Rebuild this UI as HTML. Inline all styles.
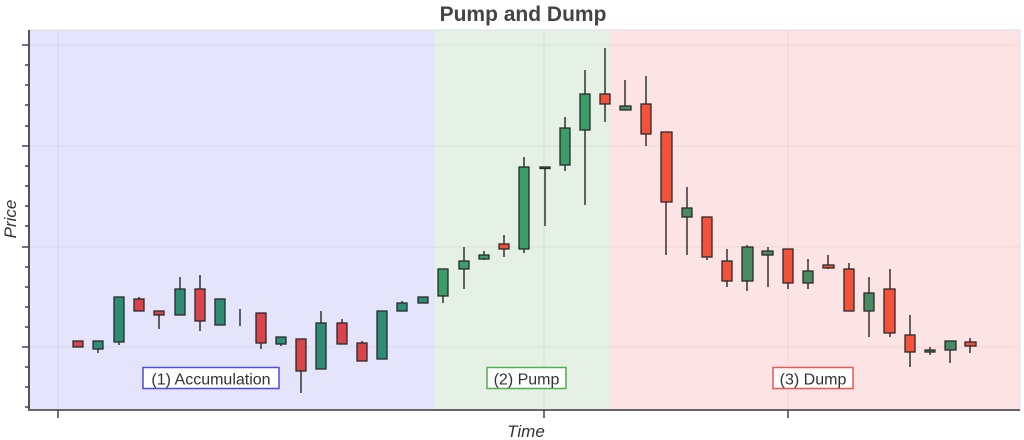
<!DOCTYPE html>
<html><head><meta charset="utf-8"><style>
html,body{margin:0;padding:0;background:#fff;}
svg{display:block;font-family:"Liberation Sans",sans-serif;}
.w{stroke:#333;stroke-width:1.5}
.b{stroke:#2a2a2a;stroke-width:1.3}
.t{fill:#2e8b74}.r{fill:#d9434a}.g{fill:#3a9d6a}.o{fill:#f4513a}.d{fill:#4a8a62}
</style></head><body>
<svg width="1024" height="440" viewBox="0 0 1024 440">
<rect x="29" y="30" width="406" height="380" fill="#e4e4fb"/>
<rect x="435" y="30" width="175" height="380" fill="#e4f1e4"/>
<rect x="610" y="30" width="410" height="380" fill="#fde4e4"/>
<g stroke="#000" stroke-opacity="0.05" stroke-width="1">
<line x1="29" y1="45" x2="1020" y2="45"/><line x1="29" y1="146" x2="1020" y2="146"/>
<line x1="29" y1="247" x2="1020" y2="247"/><line x1="29" y1="347" x2="1020" y2="347"/>
<line x1="58" y1="30" x2="58" y2="410"/><line x1="544" y1="30" x2="544" y2="410"/><line x1="788" y1="30" x2="788" y2="410"/>
</g>
<rect x="29" y="30" width="991" height="380" fill="none" stroke="#ddd" stroke-width="1"/>
<line x1="29" y1="30" x2="29" y2="411" stroke="#555" stroke-width="2"/>
<line x1="28" y1="410" x2="1020" y2="410" stroke="#666" stroke-width="2"/>
<g stroke="#444" stroke-width="1.5">
<line x1="22" y1="45" x2="29" y2="45"/><line x1="25" y1="65" x2="29" y2="65"/><line x1="25" y1="85" x2="29" y2="85"/><line x1="25" y1="105" x2="29" y2="105"/><line x1="25" y1="126" x2="29" y2="126"/>
<line x1="22" y1="146" x2="29" y2="146"/><line x1="25" y1="166" x2="29" y2="166"/><line x1="25" y1="186" x2="29" y2="186"/><line x1="25" y1="206" x2="29" y2="206"/><line x1="25" y1="226" x2="29" y2="226"/>
<line x1="22" y1="247" x2="29" y2="247"/><line x1="25" y1="267" x2="29" y2="267"/><line x1="25" y1="287" x2="29" y2="287"/><line x1="25" y1="307" x2="29" y2="307"/><line x1="25" y1="327" x2="29" y2="327"/>
<line x1="22" y1="347" x2="29" y2="347"/><line x1="25" y1="367" x2="29" y2="367"/><line x1="25" y1="387" x2="29" y2="387"/><line x1="25" y1="407" x2="29" y2="407"/>
<line x1="58" y1="410" x2="58" y2="418"/><line x1="544" y1="410" x2="544" y2="418"/><line x1="788" y1="410" x2="788" y2="418"/>
</g>
<g class="w">
<line x1="98" y1="341" x2="98" y2="353"/><line x1="119" y1="297" x2="119" y2="345"/><line x1="139" y1="297" x2="139" y2="311"/>
<line x1="159" y1="311" x2="159" y2="329"/><line x1="180" y1="277" x2="180" y2="315"/><line x1="200" y1="275" x2="200" y2="331"/>
<line x1="240" y1="309" x2="240" y2="326"/><line x1="261" y1="313" x2="261" y2="349"/><line x1="281" y1="337" x2="281" y2="346"/>
<line x1="301" y1="339" x2="301" y2="393"/><line x1="321" y1="311" x2="321" y2="369"/><line x1="342" y1="319" x2="342" y2="344"/>
<line x1="362" y1="341" x2="362" y2="361"/><line x1="402" y1="301" x2="402" y2="311"/>
<line x1="443" y1="269" x2="443" y2="303"/><line x1="464" y1="247" x2="464" y2="289"/><line x1="484" y1="251" x2="484" y2="260"/>
<line x1="504" y1="235" x2="504" y2="257"/><line x1="524" y1="157" x2="524" y2="253"/><line x1="545" y1="167" x2="545" y2="226"/>
<line x1="565" y1="117" x2="565" y2="171"/><line x1="585" y1="70" x2="585" y2="205"/><line x1="605" y1="48" x2="605" y2="122"/>
<line x1="625" y1="80" x2="625" y2="110"/><line x1="646" y1="76" x2="646" y2="146"/><line x1="666" y1="132" x2="666" y2="255"/>
<line x1="687" y1="187" x2="687" y2="255"/><line x1="707" y1="217" x2="707" y2="260"/><line x1="727" y1="249" x2="727" y2="287"/>
<line x1="747" y1="245" x2="747" y2="291"/><line x1="768" y1="247" x2="768" y2="287"/><line x1="788" y1="249" x2="788" y2="289"/>
<line x1="808" y1="259" x2="808" y2="289"/><line x1="828" y1="255" x2="828" y2="269"/><line x1="849" y1="263" x2="849" y2="311"/>
<line x1="869" y1="277" x2="869" y2="337"/><line x1="890" y1="269" x2="890" y2="337"/><line x1="910" y1="315" x2="910" y2="367"/>
<line x1="930" y1="347" x2="930" y2="355"/><line x1="950" y1="341" x2="950" y2="363"/><line x1="970" y1="338" x2="970" y2="353"/>
</g>
<g class="b">
<rect class="r" x="73" y="341" width="10" height="6"/><rect class="t" x="93" y="341" width="10" height="8"/>
<rect class="t" x="114" y="297" width="10" height="45"/><rect class="r" x="134" y="299" width="10" height="12"/>
<rect class="r" x="154" y="311" width="10" height="4"/><rect class="t" x="175" y="289" width="10" height="26"/>
<rect class="r" x="195" y="289" width="10" height="32"/><rect class="t" x="215" y="299" width="10" height="26"/>
<rect class="r" x="256" y="313" width="10" height="30"/><rect class="t" x="276" y="337" width="10" height="7"/>
<rect class="r" x="296" y="339" width="10" height="32"/><rect class="t" x="316" y="323" width="10" height="46"/>
<rect class="r" x="337" y="323" width="10" height="21"/><rect class="r" x="357" y="343" width="10" height="18"/>
<rect class="t" x="377" y="311" width="10" height="48"/><rect class="t" x="397" y="303" width="10" height="8"/>
<rect class="t" x="418" y="297" width="10" height="6"/>
<rect class="g" x="438" y="269" width="10" height="27"/><rect class="g" x="459" y="261" width="10" height="8"/>
<rect class="g" x="479" y="255" width="10" height="4"/><rect class="o" x="499" y="244" width="10" height="5"/>
<rect class="g" x="519" y="167" width="10" height="82"/><rect class="g" x="540" y="167" width="10" height="1.5"/>
<rect class="g" x="560" y="128" width="10" height="37"/><rect class="g" x="580" y="94" width="10" height="36"/>
<rect class="o" x="600" y="94" width="10" height="10"/>
<rect class="d" x="620" y="106" width="11" height="4"/><rect class="o" x="641" y="104" width="10" height="30"/>
<rect class="o" x="661" y="132" width="11" height="70"/><rect class="d" x="682" y="208" width="10" height="9"/>
<rect class="o" x="702" y="217" width="10" height="40"/><rect class="o" x="722" y="261" width="10" height="20"/>
<rect class="d" x="742" y="247" width="11" height="34"/><rect class="d" x="762" y="251" width="11" height="4"/>
<rect class="o" x="783" y="249" width="10" height="34"/><rect class="d" x="803" y="271" width="10" height="12"/>
<rect class="o" x="823" y="265" width="11" height="3"/><rect class="o" x="844" y="269" width="10" height="42"/>
<rect class="d" x="864" y="293" width="10" height="18"/><rect class="o" x="884" y="289" width="11" height="44"/>
<rect class="o" x="905" y="335" width="10" height="17"/><rect class="d" x="925" y="350" width="10" height="2"/>
<rect class="d" x="945" y="341" width="11" height="9"/><rect class="o" x="965" y="342" width="11" height="4"/>
</g>
<rect x="143" y="367.5" width="136" height="21" fill="#fff" stroke="#4a4aee" stroke-width="1.5"/>
<text x="211" y="384.5" font-size="16" fill="#333" text-anchor="middle">(1) Accumulation</text>
<rect x="487" y="367.5" width="79" height="21" fill="#fff" stroke="#4caf50" stroke-width="1.5"/>
<text x="526.5" y="384.5" font-size="16" fill="#333" text-anchor="middle">(2) Pump</text>
<rect x="773" y="367.5" width="80" height="21" fill="#fff" stroke="#ee5555" stroke-width="1.5"/>
<text x="813" y="384.5" font-size="16" fill="#333" text-anchor="middle">(3) Dump</text>
<text x="523" y="21" font-size="21" font-weight="bold" fill="#444" text-anchor="middle">Pump and Dump</text>
<text x="526" y="437" font-size="17" font-style="italic" fill="#333" text-anchor="middle">Time</text>
<text transform="translate(16,219) rotate(-90)" font-size="17" font-style="italic" fill="#333" text-anchor="middle">Price</text>
</svg>
</body></html>
